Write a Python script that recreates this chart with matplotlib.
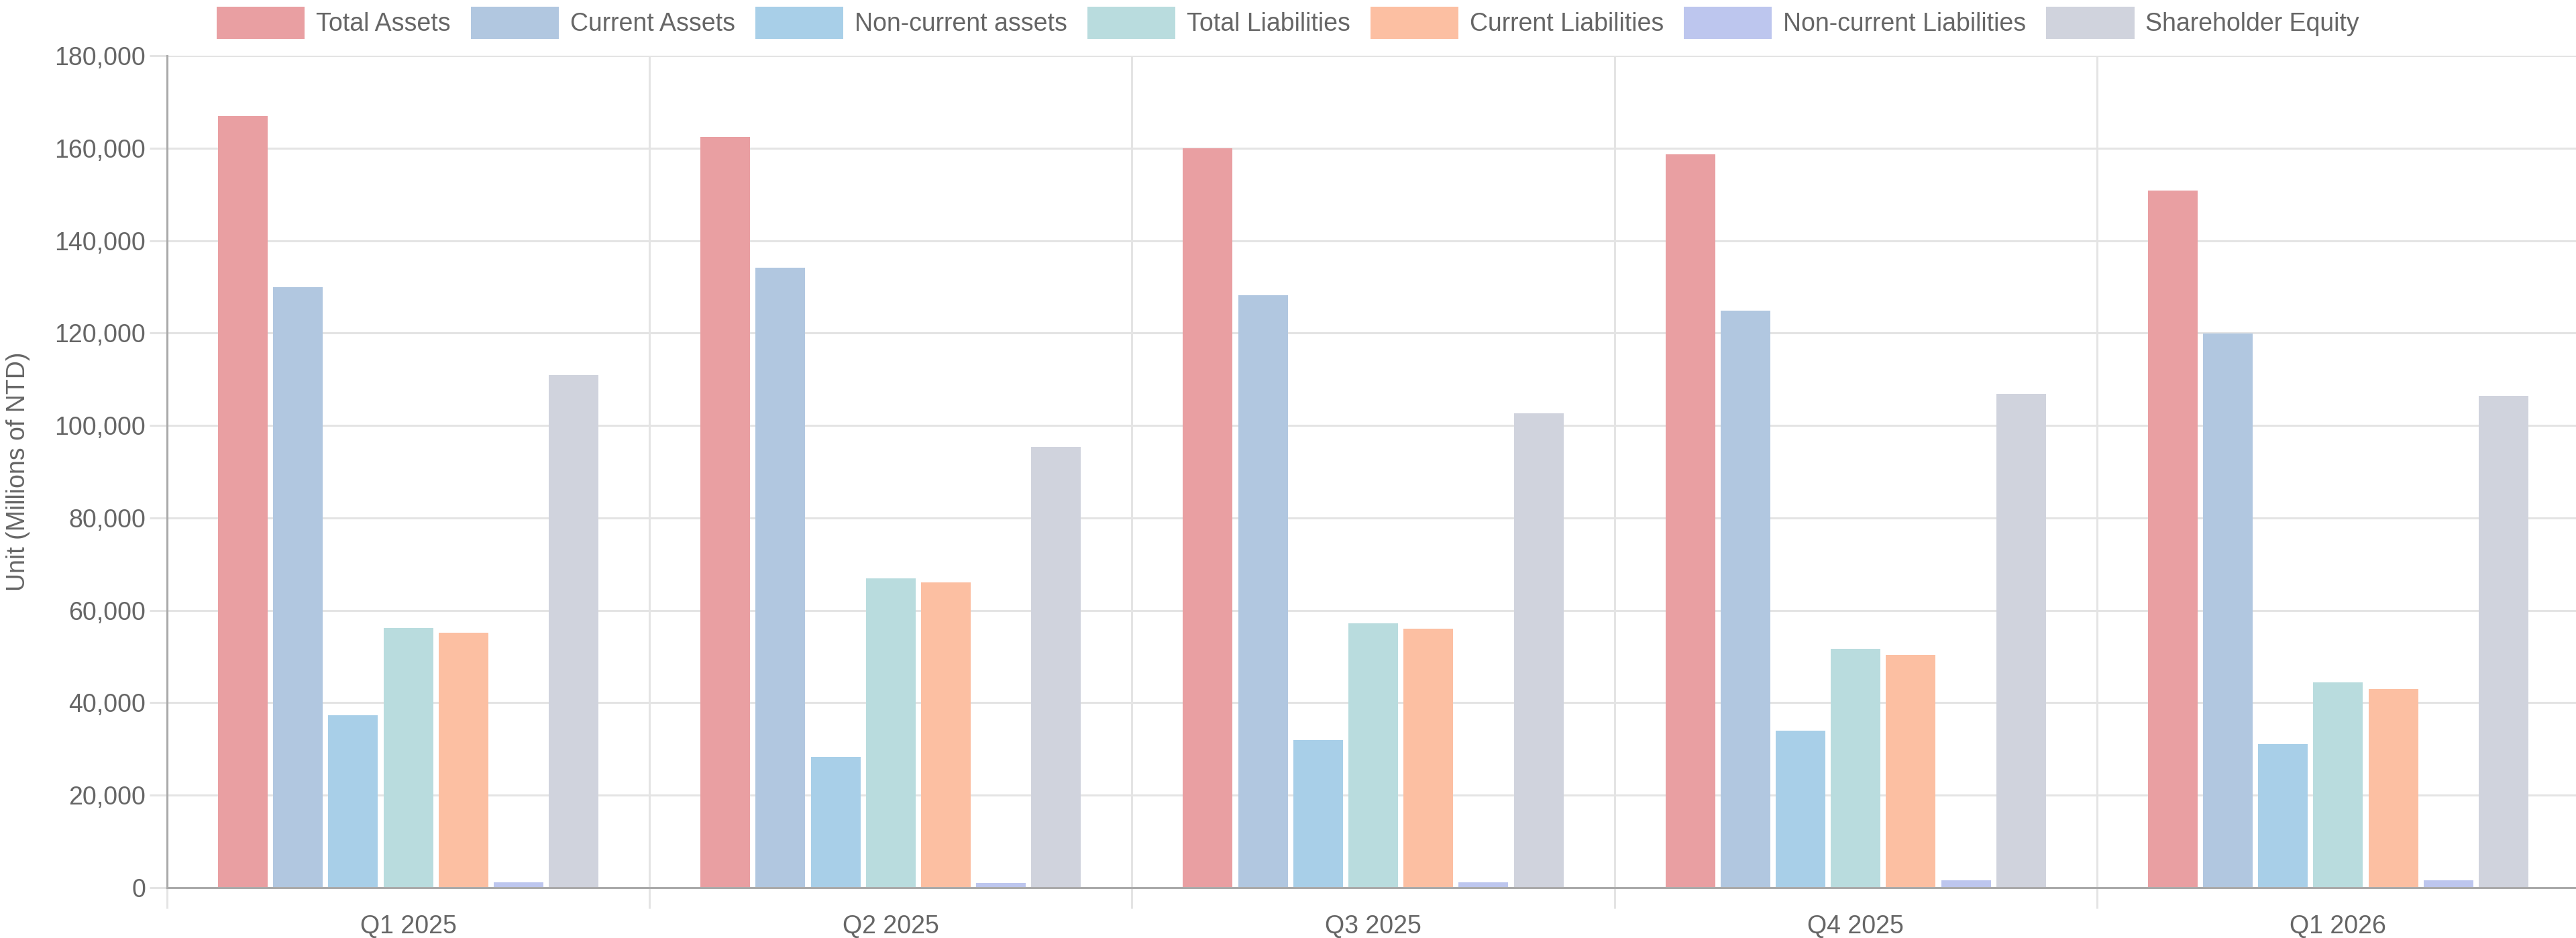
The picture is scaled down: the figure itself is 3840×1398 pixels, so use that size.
import matplotlib.pyplot as plt
import numpy as np
from matplotlib.ticker import FuncFormatter, FixedLocator

plt.rcParams['font.family'] = ['Liberation Sans', 'DejaVu Sans']

# balance sheet, millions of NTD
quarters = ['Q1 2025', 'Q2 2025', 'Q3 2025', 'Q4 2025', 'Q1 2026']
total_assets = [167000, 162400, 159900, 158700, 150800]
current_assets = [129900, 134200, 128200, 124900, 119900]
noncurrent_assets = [37300, 28300, 32000, 34000, 31100]
total_liab = [56200, 66900, 57200, 51700, 44400]
current_liab = [55100, 66000, 56100, 50400, 42900]
noncurrent_liab = [1200, 1000, 1100, 1600, 1600]
equity = [110900, 95300, 102600, 106800, 106400]

series = [
    ('Total Assets', total_assets, '#E99FA2'),
    ('Current Assets', current_assets, '#B1C7E0'),
    ('Non-current assets', noncurrent_assets, '#A8CFE8'),
    ('Total Liabilities', total_liab, '#B9DCDE'),
    ('Current Liabilities', current_liab, '#FCBFA2'),
    ('Non-current Liabilities', noncurrent_liab, '#BDC6EE'),
    ('Shareholder Equity', equity, '#D0D3DD'),
]

W, H = 3840, 1398
fig = plt.figure(figsize=(W / 100, H / 100), dpi=100)
# right edge of plot area sits just past the canvas, like the original
ax = fig.add_axes([249 / W, 1 - 1323 / H, (3845 - 249) / W, (1323 - 83) / H])

fs = 27
txt = '#666666'
grid = '#e4e4e4'

x = np.arange(len(quarters))
n = len(series)
slot = 0.8 / n
for j, (name, vals, col) in enumerate(series):
    ax.bar(x + (j - (n - 1) / 2) * slot, vals, width=slot * 0.9, color=col,
           label=name, zorder=3)

ax.set_xlim(-0.5, len(quarters) - 0.5)
ax.set_ylim(0, 180000)
ax.set_yticks(np.arange(0, 180001, 20000))
ax.yaxis.set_major_formatter(FuncFormatter(lambda v, p: f'{int(v):,}'))
ax.set_xticks(x)
ax.set_xticklabels(quarters)
ax.xaxis.set_minor_locator(FixedLocator(np.arange(-0.5, len(quarters), 1.0)))

ax.grid(axis='y', which='major', color=grid, linewidth=2.2, zorder=0)
ax.grid(axis='x', which='minor', color=grid, linewidth=2.2, zorder=0)
ax.tick_params(axis='y', length=19, width=2.2, color=grid, pad=4,
               labelsize=fs, labelcolor=txt)
ax.tick_params(axis='x', which='major', length=0, pad=29,
               labelsize=fs, labelcolor=txt)
ax.tick_params(axis='x', which='minor', length=22, width=2.2, color=grid)
ax.xaxis.get_minor_ticks()[0].tick1line.set_color('#aaaaaa')

for s in ['top', 'right']:
    ax.spines[s].set_visible(False)
for s in ['left', 'bottom']:
    ax.spines[s].set_color('#aaaaaa')
    ax.spines[s].set_linewidth(2.2)
    ax.spines[s].set_zorder(4)

# y axis title
fig.text(27 / W, 1 - (83 + 1323) / 2 / H, 'Unit (Millions of NTD)',
         rotation=90, ha='center', va='center', fontsize=fs, color=txt)

fig.legend(loc='center', bbox_to_anchor=(0.5, 1 - 34 / H), ncol=n,
           frameon=False, fontsize=fs, labelcolor=txt,
           handlelength=3.5, handleheight=1.6, handletextpad=0.45,
           columnspacing=0.8, borderaxespad=0)

fig.savefig('out.png', dpi=100)
